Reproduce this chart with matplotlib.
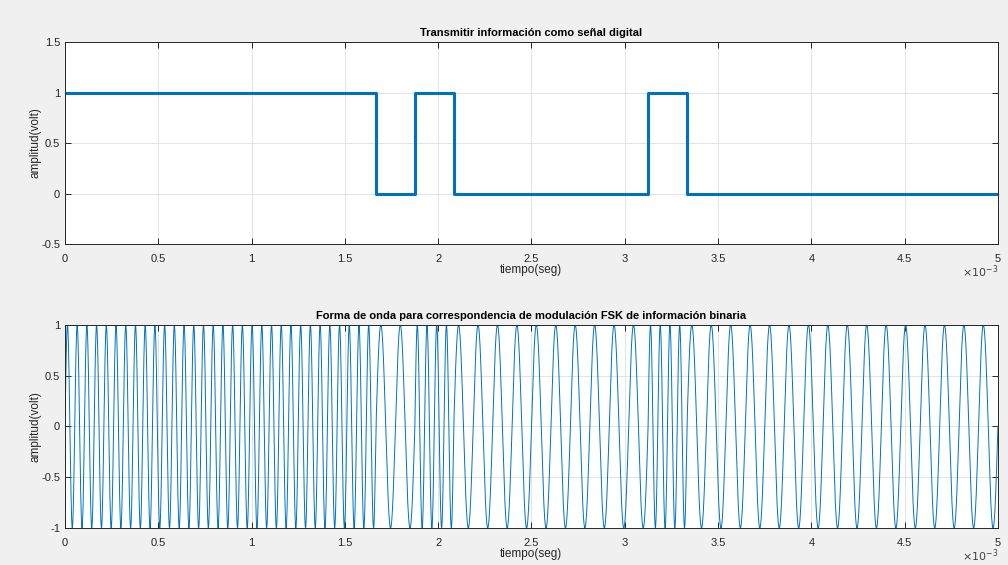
import numpy as np
import matplotlib
matplotlib.use("Agg")
import matplotlib.pyplot as plt

plt.rcParams['font.family'] = ['Liberation Sans', 'DejaVu Sans']

# data
bits = [1, 1, 1, 1, 1, 1, 1, 1, 0, 1, 0, 0, 0, 0, 0, 1, 0, 0, 0, 0, 0, 0, 0, 0]
bit_rate = 4800.0        # bits per second (24 bits in 5 ms)
f_one = 19200.0          # Hz for bit 1
f_zero = 9600.0          # Hz for bit 0
x_ticks = [0, 0.5e-3, 1e-3, 1.5e-3, 2e-3, 2.5e-3, 3e-3, 3.5e-3, 4e-3, 4.5e-3, 5e-3]
x_labels = ['0', '0.5', '1', '1.5', '2', '2.5', '3', '3.5', '4', '4.5', '5']
top_yticks = [-0.5, 0, 0.5, 1, 1.5]
bot_yticks = [-1, -0.5, 0, 0.5, 1]

blue = '#0072BD'
tb = 1.0 / bit_rate
edges = np.arange(len(bits) + 1) * tb
levels = list(bits) + [bits[-1]]

# FSK waveform built from the bits
spb = 400
t = np.linspace(0, len(bits) * tb, len(bits) * spb + 1)
idx = np.minimum((t / tb).astype(int), len(bits) - 1)
freq = np.where(np.array(bits)[idx] == 1, f_one, f_zero)
wave = np.sin(2 * np.pi * freq * t)

fig = plt.figure(figsize=(10.08, 5.65), dpi=100, facecolor='#F0F0F0')
ax1 = fig.add_axes([0.0645, 0.568, 0.9255, 0.3577])
ax2 = fig.add_axes([0.0645, 0.0655, 0.9255, 0.3593])

ax1.step(edges, levels, where='post', color=blue, lw=2.2)
ax2.plot(t, wave, color=blue, lw=0.7)

ax1.set_ylim(-0.5, 1.5)
ax1.set_yticks(top_yticks)
ax1.set_yticklabels(['-0.5', '0', '0.5', '1', '1.5'])
ax2.set_ylim(-1, 1)
ax2.set_yticks(bot_yticks)
ax2.set_yticklabels(['-1', '-0.5', '0', '0.5', '1'])

ax1.set_title('Transmitir información como señal digital', fontsize=8,
              fontweight='bold', color='black', pad=4)
ax2.set_title('Forma de onda para correspondencia de modulación FSK de información binaria',
              fontsize=8, fontweight='bold', color='black', pad=4)

for ax in (ax1, ax2):
    ax.set_xlim(0, 5e-3)
    ax.set_xticks(x_ticks)
    ax.set_xticklabels(x_labels)
    ax.text(1.0, -0.095, r'$\times10^{-3}$', transform=ax.transAxes, ha='right',
            va='top', fontsize=8, color='#404040')
    ax.set_facecolor('white')
    ax.grid(True, color='#E3E3E3', lw=0.7)
    ax.set_axisbelow(True)
    ax.tick_params(direction='in', top=True, right=True, labelsize=8,
                   colors='#262626', labelcolor='#262626', length=4, width=0.7)
    ax.tick_params(axis='x', pad=7)
    for s in ax.spines.values():
        s.set_color('#262626')
        s.set_linewidth(0.7)
    ax.set_xlabel('tiempo(seg)', fontsize=8.5, color='#262626', labelpad=0)
    ax.set_ylabel('amplitud(volt)', fontsize=8.5, color='#262626', labelpad=0)

fig.savefig('out.png', dpi=100, facecolor=fig.get_facecolor())
